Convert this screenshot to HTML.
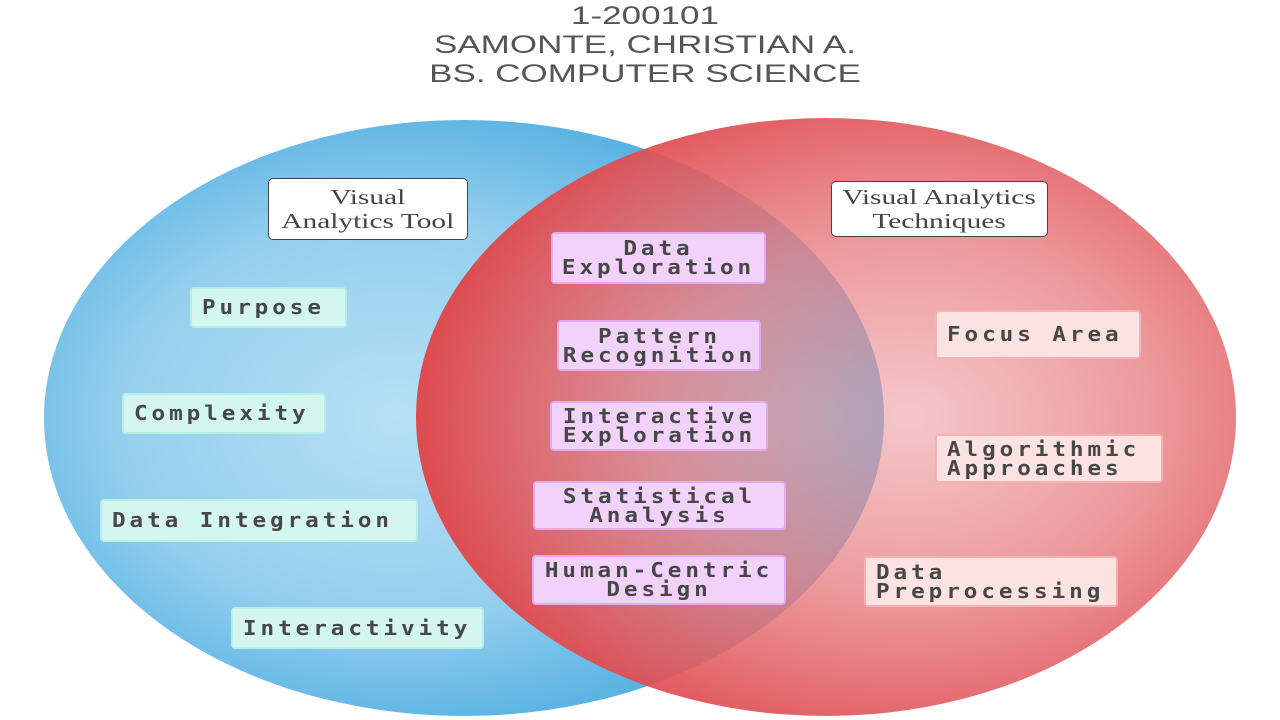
<!DOCTYPE html>
<html><head><meta charset="utf-8"><style>
body{margin:0;width:1280px;height:720px;background:#fff;position:relative;overflow:hidden;font-family:"Liberation Sans",sans-serif}
.t{position:absolute;left:0;width:1290px;text-align:center;color:#555;font-size:25px;line-height:29px;transform:scaleX(1.4);transform-origin:645px 0}
.b{position:absolute;box-sizing:border-box;display:flex;align-items:center;font-family:"DejaVu Sans Mono",monospace;font-weight:bold;font-size:20px;letter-spacing:3.5px;color:#474747;line-height:19px;border-radius:4px;padding-left:10px;white-space:pre}
.b span{display:inline-block;transform:scaleX(1.13);transform-origin:0 50%}
.g{background:#d4f6f0;border:2px solid #b6eee4}
.p{background:#f2d2fa;border:2px solid #e2aaf2;justify-content:center;text-align:center;padding:0}
.p span{transform-origin:50% 50%}
.r{background:#fde2e2;border:2px solid #f6b2b2}
.h{position:absolute;box-sizing:border-box;background:#fff;border:1.5px solid #444;border-radius:5px;font-family:"Liberation Serif",serif;font-size:21px;color:#444;text-align:center;line-height:24px;display:flex;align-items:center;justify-content:center}
.h span{display:inline-block;transform:scaleX(1.4);white-space:nowrap}
</style></head><body>
<div class="t" style="top:2px">1-200101<br>SAMONTE, CHRISTIAN A.<br>BS. COMPUTER SCIENCE</div>
<svg width="1280" height="720" style="position:absolute;left:0;top:0">
<defs>
<radialGradient id="bl" cx="0.42" cy="0.5" r="0.6"><stop offset="0" stop-color="#b6e0f4"/><stop offset="0.55" stop-color="#95cfee"/><stop offset="1" stop-color="#45a9df"/></radialGradient>
<radialGradient id="rd" cx="0.6" cy="0.5" r="0.6"><stop offset="0" stop-color="rgb(238,160,165)" stop-opacity="0.6"/><stop offset="0.5" stop-color="rgb(232,128,132)" stop-opacity="0.8"/><stop offset="1" stop-color="rgb(222,72,76)" stop-opacity="0.98"/></radialGradient>
</defs>
<ellipse cx="464" cy="418" rx="420" ry="298" fill="url(#bl)"/>
<ellipse cx="826" cy="417" rx="410" ry="299" fill="url(#rd)"/>
</svg>
<div class="h" style="left:268px;top:178px;width:200px;height:62px"><span>Visual<br>Analytics Tool</span></div>
<div class="h" style="left:831px;top:181px;width:217px;height:56px"><span>Visual Analytics<br>Techniques</span></div>
<div class="b g" style="left:190px;top:287px;width:157px;height:41px"><span>Purpose</span></div>
<div class="b g" style="left:122px;top:393px;width:204px;height:41px"><span>Complexity</span></div>
<div class="b g" style="left:100px;top:499px;width:318px;height:43px"><span>Data Integration</span></div>
<div class="b g" style="left:231px;top:607px;width:253px;height:42px"><span>Interactivity</span></div>
<div class="b p" style="left:551px;top:232px;width:215px;height:52px"><span>Data<br>Exploration</span></div>
<div class="b p" style="left:557px;top:320px;width:204px;height:51px"><span>Pattern<br>Recognition</span></div>
<div class="b p" style="left:550px;top:401px;width:218px;height:50px"><span>Interactive<br>Exploration</span></div>
<div class="b p" style="left:533px;top:481px;width:253px;height:49px"><span>Statistical<br>Analysis</span></div>
<div class="b p" style="left:532px;top:555px;width:254px;height:50px"><span>Human-Centric<br>Design</span></div>
<div class="b r" style="left:935px;top:310px;width:206px;height:49px"><span>Focus Area</span></div>
<div class="b r" style="left:935px;top:434px;width:228px;height:49px"><span>Algorithmic<br>Approaches</span></div>
<div class="b r" style="left:864px;top:556px;width:254px;height:51px"><span>Data<br>Preprocessing</span></div>
</body></html>
